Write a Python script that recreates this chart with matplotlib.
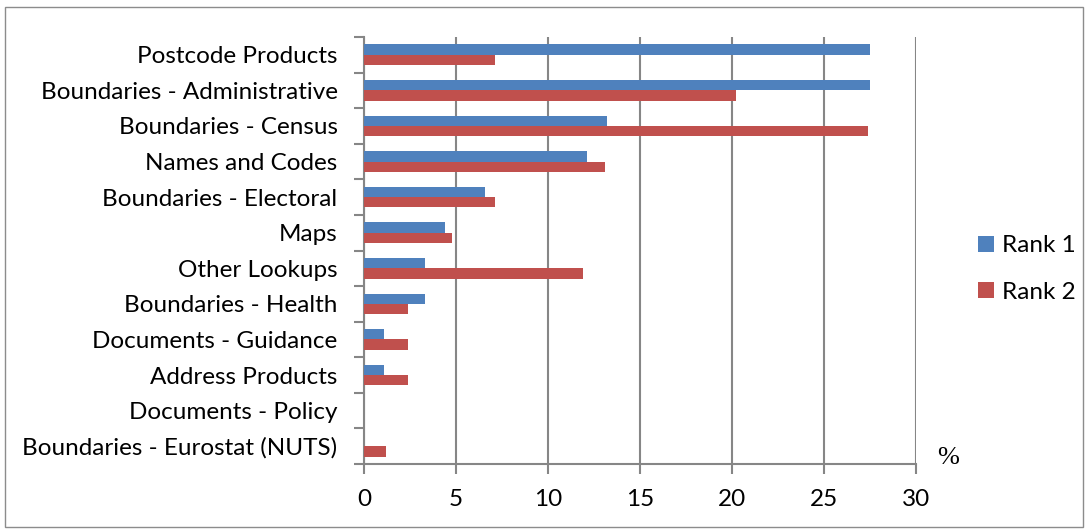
import matplotlib
matplotlib.use("Agg")
import matplotlib.pyplot as plt
from matplotlib.patches import Rectangle
import numpy as np

categories = ["Postcode Products", "Boundaries - Administrative", "Boundaries - Census",
              "Names and Codes", "Boundaries - Electoral", "Maps", "Other Lookups",
              "Boundaries - Health", "Documents - Guidance", "Address Products",
              "Documents - Policy", "Boundaries - Eurostat (NUTS)"]
rank1 = [27.5, 27.5, 13.2, 12.1, 6.6, 4.4, 3.3, 3.3, 1.1, 1.1, 0.0, 0.0]
rank2 = [7.1, 20.2, 27.4, 13.1, 7.1, 4.8, 11.9, 2.4, 2.4, 2.4, 0.0, 1.2]
xticks = [0, 5, 10, 15, 20, 25, 30]

W, H = 1089, 530
fig = plt.figure(figsize=(W / 100, H / 100), dpi=100)
font = "Lato"
fs = 17.5

# outer border
fig.patches.append(Rectangle((5 / W, 3 / H), 1078 / W, 520 / H, transform=fig.transFigure,
                             fill=False, edgecolor="#8c8c8c", linewidth=1.0))

left, right, top, bottom = 364, 916, 37, 464
ax = fig.add_axes([left / W, 1 - bottom / H, (right - left) / W, (bottom - top) / H])

y = np.arange(len(categories))
bh = 0.29
ax.barh(y - bh / 2, rank1, height=bh, color="#4F81BD", label="Rank 1", zorder=3)
ax.barh(y + bh / 2, rank2, height=bh, color="#C0504D", label="Rank 2", zorder=3)

ax.set_xlim(0, 30)
ax.set_ylim(len(categories) - 0.5, -0.5)
ax.set_xticks(xticks)
ax.set_xticklabels([str(t) for t in xticks], fontsize=fs, family=font)
ax.set_yticks(y)
ax.set_yticklabels(categories, fontsize=fs, family=font)
ax.set_yticks(np.arange(len(categories) + 1) - 0.5, minor=True)
ax.tick_params(axis="y", which="major", length=0, pad=19)
ax.tick_params(axis="y", which="minor", length=7, width=1.5, color="#868686", direction="out")
ax.tick_params(axis="x", length=7, width=1.5, color="#868686", direction="out", pad=11)

ax.grid(axis="x", color="#868686", linewidth=1.5, zorder=0)
for s in ["top", "right"]:
    ax.spines[s].set_visible(False)
for s in ["left", "bottom"]:
    ax.spines[s].set_color("#868686")
    ax.spines[s].set_linewidth(1.5)

leg = fig.legend(loc="center left", bbox_to_anchor=(966 / W, 1 - 269 / H), frameon=False,
                 prop={"family": font, "size": fs}, handlelength=0.65, handleheight=0.65,
                 handletextpad=0.35, labelspacing=1.05, borderpad=0)

fig.text(948 / W, 1 - 458 / H, "%", fontsize=19, family="Liberation Serif",
         ha="center", va="center")

fig.savefig("out.png", dpi=100)
